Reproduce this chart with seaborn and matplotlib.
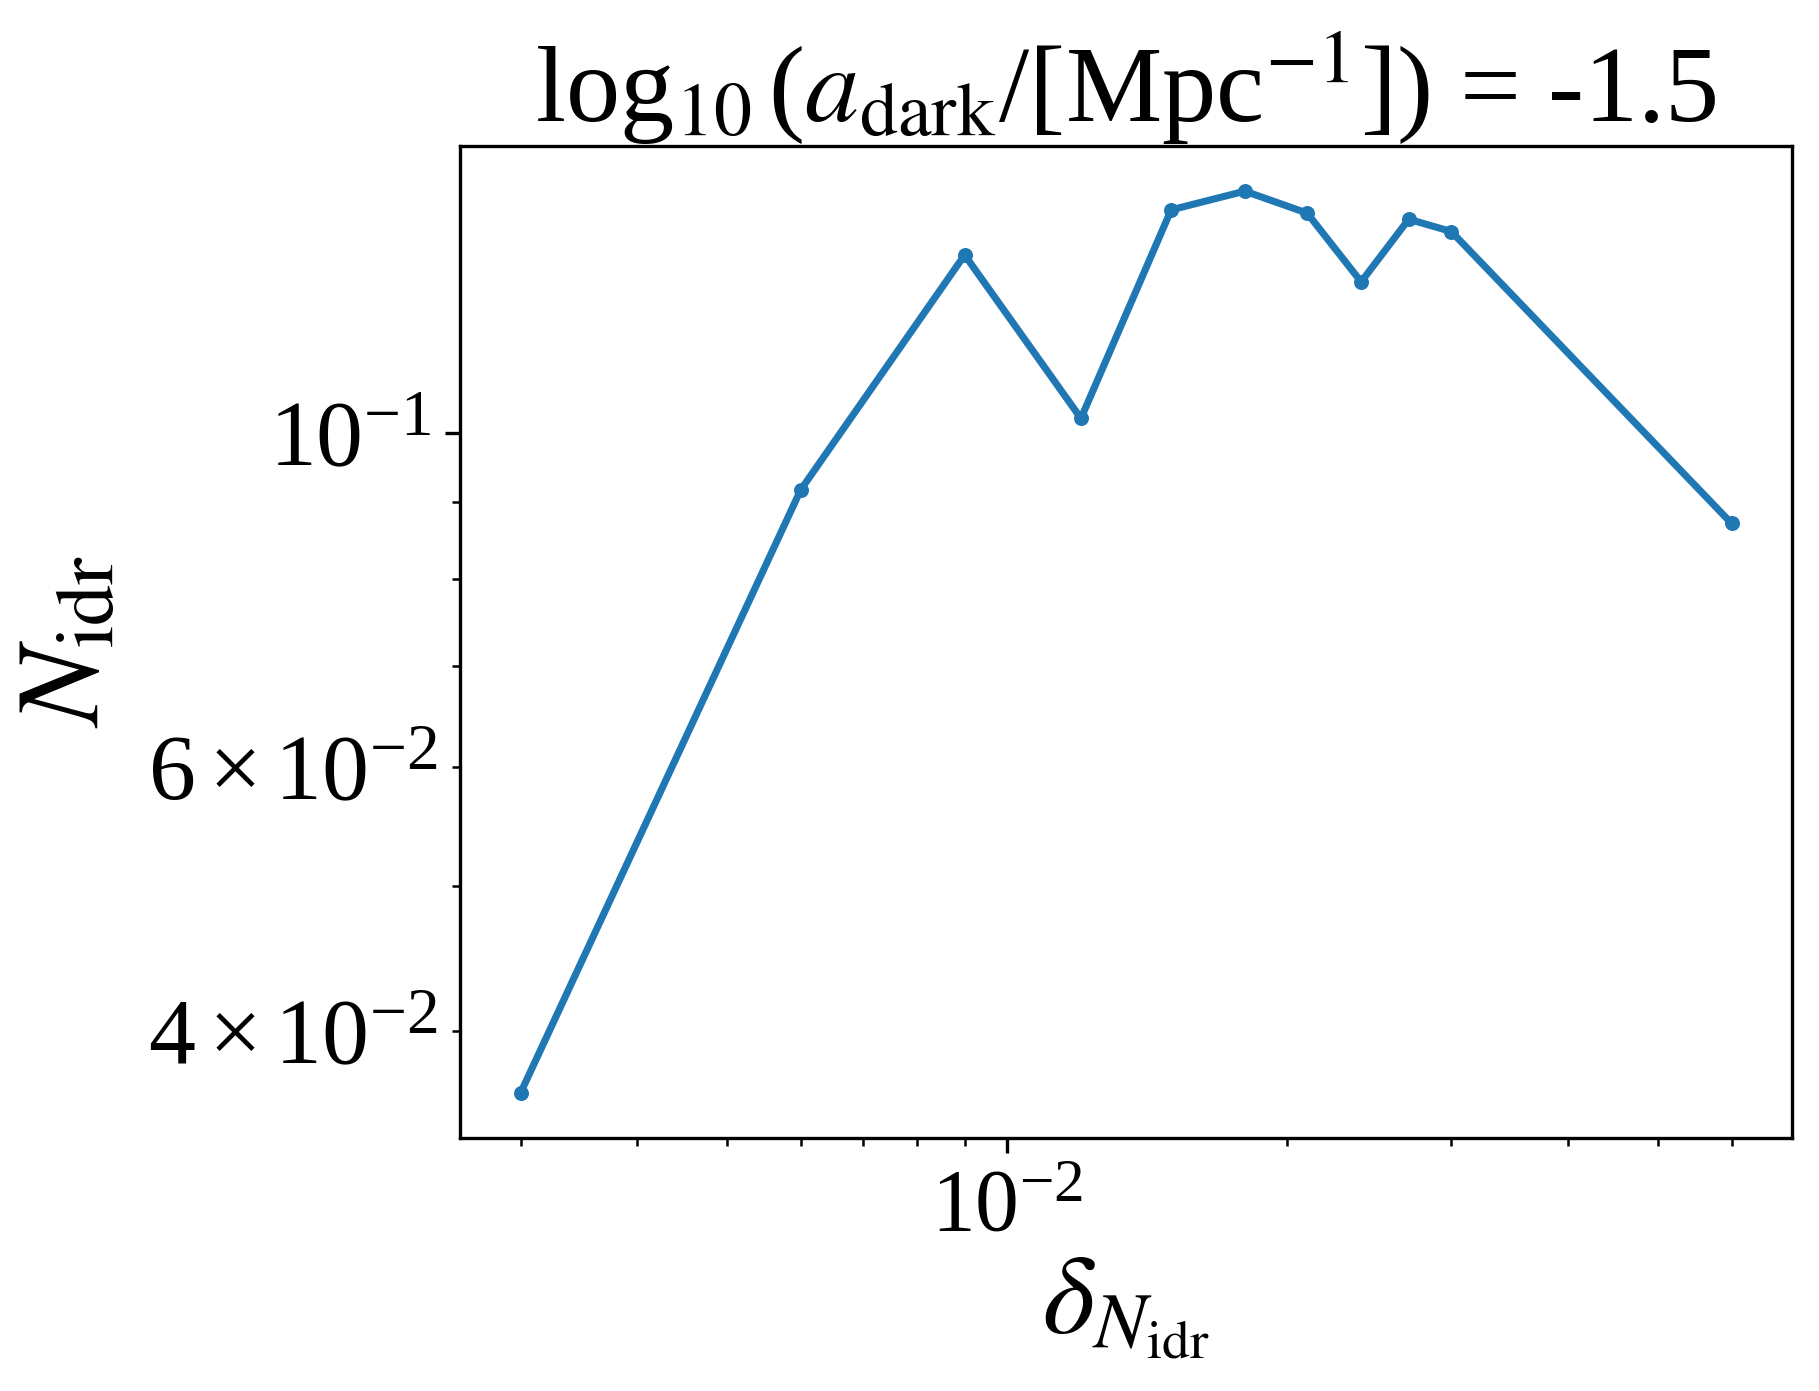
import matplotlib
matplotlib.use("Agg")
import matplotlib.pyplot as plt
import seaborn as sns
import pandas as pd

# delta_N_idr values and resulting N_idr
delta_nidr = [0.003, 0.006, 0.009, 0.012, 0.015, 0.018, 0.021, 0.024, 0.027, 0.030, 0.060]
n_idr = [0.0364, 0.0917, 0.1314, 0.1023, 0.1408, 0.1449, 0.1401, 0.1261, 0.1388, 0.1362, 0.0871]

title_text = r"log$_{10}\,$($a_{\rm dark}$/[Mpc$^{-1}$]) = -1.5"

plt.rcParams["font.family"] = ["Liberation Serif", "DejaVu Serif"]
plt.rcParams["mathtext.fontset"] = "stix"

df = pd.DataFrame({"delta": delta_nidr, "nidr": n_idr})

fig = plt.figure(figsize=(1819 / 300, 1391 / 300), dpi=300)
ax = fig.add_axes([0.2529, 0.1819, 0.7323, 0.7131])

sns.lineplot(data=df, x="delta", y="nidr", ax=ax, marker="o", color="#1f77b4",
             linewidth=1.7, markersize=3.6, markeredgewidth=0)

ax.set_xscale("log")
ax.set_yscale("log")

ax.set_xlabel(r"$\delta_{N_{\rm idr}}$", fontsize=27, labelpad=2)
ax.set_ylabel(r"$N_{\rm idr}$", fontsize=28, labelpad=6)
ax.set_title(title_text, fontsize=26, pad=6)

ax.tick_params(axis="x", which="major", labelsize=21)
ax.tick_params(axis="y", which="both", labelsize=22.5)

fig.savefig("out.png", dpi=300)
